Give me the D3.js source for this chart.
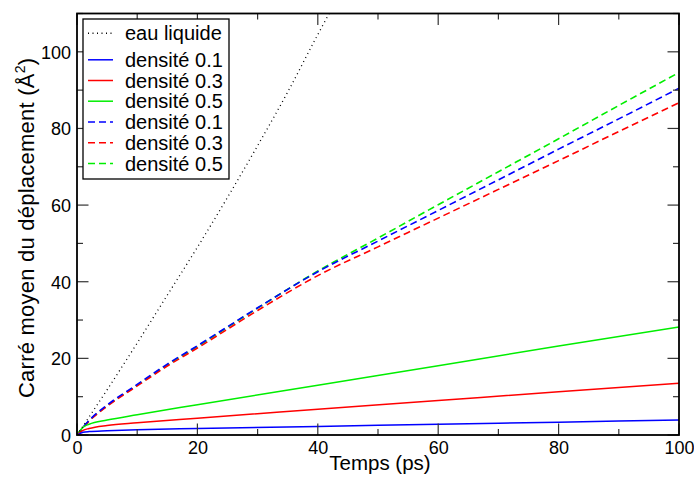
<!DOCTYPE html>
<html><head><meta charset="utf-8">
<script src="https://cdn.jsdelivr.net/npm/d3@7"></script>
<style>body{margin:0;background:#fff;} svg{display:block;font-family:"Liberation Sans",Arial,sans-serif;}</style>
</head><body>
<script>
const xEau = [0,5,10,15,20,25,30,35,40,45];
const yEau = [0,11.8,24,36.5,49,62,75.5,89.5,104.5,119];
const xDash = [0,2,5,10,15,20,30,40,50,60,70,80,90,100];
const yDash01 = [0,3.8,7.8,13.2,18.5,23.3,33.2,42.6,50.6,58.6,66.6,74.6,82.5,90.5];
const yDash03 = [0,3.6,7.5,12.8,18.0,22.7,32.5,41.6,49.1,56.6,64.1,71.6,79.2,86.7];
const yDash05 = [0,3.7,7.6,13.0,18.3,23.1,33.1,42.8,51.4,60.1,68.7,77.3,86.0,94.6];
const xSolid = [0,1,2,5,10,20,40,60,80,100];
const ySolid01 = [0,0.7,0.9,1.1,1.35,1.7,2.25,2.8,3.35,3.9];
const ySolid03 = [0,1.2,1.7,2.5,3.2,4.4,6.7,9.0,11.3,13.5];
const ySolid05 = [0,2.0,2.8,3.9,5.3,7.9,13.0,18.1,23.2,28.2];
const legendLabels = ["eau liquide","densité 0.1","densité 0.3","densité 0.5","densité 0.1","densité 0.3","densité 0.5"];
const xTicks = [0,20,40,60,80,100];
const yTicks = [0,20,40,60,80,100];

const W=694,H=480;
const m={l:77,r:15,t:13.5,b:45};
const x=d3.scaleLinear().domain([0,100]).range([m.l,W-m.r]);
const y=d3.scaleLinear().domain([0,110]).range([H-m.b,m.t]);
const svg=d3.select("body").append("svg").attr("width",W).attr("height",H);

svg.append("defs").append("clipPath").attr("id","clip").append("rect")
  .attr("x",m.l).attr("y",m.t).attr("width",W-m.r-m.l).attr("height",H-m.b-m.t);

const series=[
  {xs:xEau,ys:yEau,color:"#000",dash:"1,3.5",w:1.3},
  {xs:xSolid,ys:ySolid01,color:"#0000ff",dash:null,w:1.5},
  {xs:xSolid,ys:ySolid03,color:"#ff0000",dash:null,w:1.5},
  {xs:xSolid,ys:ySolid05,color:"#00ee00",dash:null,w:1.5},
  {xs:xDash,ys:yDash01,color:"#0000ff",dash:"7,4",w:1.6},
  {xs:xDash,ys:yDash03,color:"#ff0000",dash:"7,4",w:1.6},
  {xs:xDash,ys:yDash05,color:"#00ee00",dash:"7,4",w:1.6}
];
const line=d3.line().x(d=>x(d[0])).y(d=>y(d[1])).curve(d3.curveMonotoneX);
const g=svg.append("g").attr("clip-path","url(#clip)");
series.slice().reverse().forEach(s=>{
  g.append("path").datum(s.xs.map((v,i)=>[v,s.ys[i]]))
   .attr("d",line).attr("fill","none").attr("stroke",s.color)
   .attr("stroke-width",s.w).attr("stroke-dasharray",s.dash);
});

const xb=svg.append("g").attr("transform",`translate(0,${y(0)})`)
  .call(d3.axisBottom(x).tickValues(xTicks).tickSize(0).tickPadding(0));
xb.selectAll("text").attr("font-size",18).attr("fill","#000").attr("dy",null).attr("y",19);
xb.select(".domain").remove();
const yl=svg.append("g").attr("transform",`translate(${x(0)},0)`)
  .call(d3.axisLeft(y).tickValues(yTicks).tickSize(0).tickPadding(6));
yl.selectAll("text").attr("font-size",18).attr("fill","#000").attr("dy","0.36em");
yl.select(".domain").remove();

const tk=svg.append("g").attr("stroke","#333").attr("stroke-width",1.2);
d3.range(0,101,10).forEach(v=>{
  const L=v%20===0?11.5:6;
  tk.append("line").attr("x1",x(v)).attr("x2",x(v)).attr("y1",y(0)).attr("y2",y(0)-L);
  tk.append("line").attr("x1",x(v)).attr("x2",x(v)).attr("y1",y(110)).attr("y2",y(110)+L);
});
d3.range(0,111,10).forEach(v=>{
  const L=v%20===0?11.5:6;
  tk.append("line").attr("y1",y(v)).attr("y2",y(v)).attr("x1",x(0)).attr("x2",x(0)+L);
  tk.append("line").attr("y1",y(v)).attr("y2",y(v)).attr("x1",x(100)).attr("x2",x(100)-L);
});

svg.append("rect").attr("x",m.l).attr("y",m.t).attr("width",W-m.r-m.l).attr("height",H-m.b-m.t)
  .attr("fill","none").attr("stroke","#000").attr("stroke-width",1.8);

svg.append("text").attr("x",380).attr("y",470).attr("text-anchor","middle")
  .attr("font-size",20.5).text("Temps (ps)");
const yt=svg.append("text").attr("transform",`translate(34,228) rotate(-90)`)
  .attr("text-anchor","middle").attr("font-size",22)
  .attr("textLength",340).attr("lengthAdjust","spacing");
yt.append("tspan").text("Carré moyen du déplacement (Å");
yt.append("tspan").attr("font-size",14).attr("dy",-9).text("2");
yt.append("tspan").attr("dy",9).text(")");

// legend
const lg=svg.append("g");
lg.append("rect").attr("x",83).attr("y",19).attr("width",146).attr("height",160)
  .attr("fill","#fff").attr("stroke","#000").attr("stroke-width",1.3);
const rowY=[33.3,59.8,80.5,101.2,122,142.8,163.5];
legendLabels.forEach((t,i)=>{
  const yy=rowY[i];
  const s=series[i];
  lg.append("line").attr("x1",88).attr("x2",113).attr("y1",yy).attr("y2",yy)
    .attr("stroke",s.color).attr("stroke-width",1.5).attr("stroke-dasharray",s.dash);
  lg.append("text").attr("x",125).attr("y",yy).attr("dy","0.35em").attr("font-size",20).text(t);
});
</script>
</body></html>
